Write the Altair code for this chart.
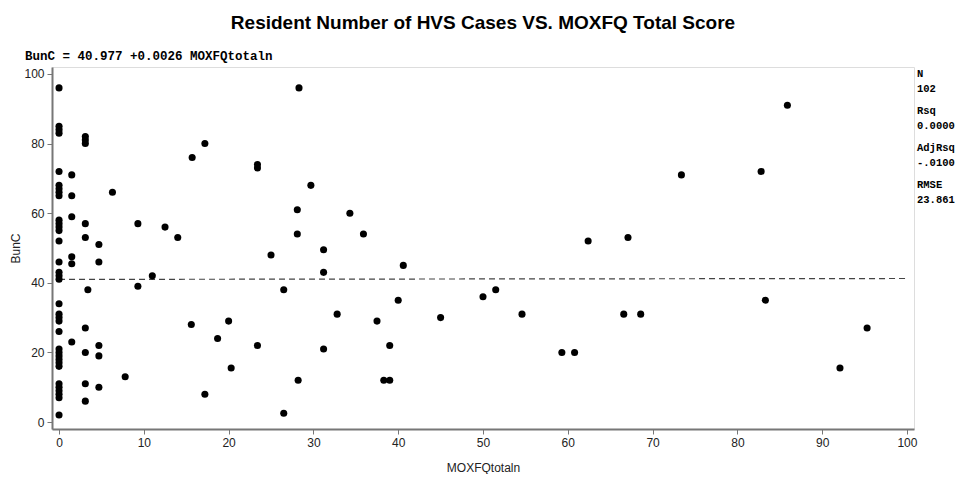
import altair as alt
import pandas as pd

# Scatter data (MOXFQtotaln, BunC)
moxfq = (
    [0] * 35
    + [1.5] * 6
    + [3.1, 3.1, 3.1, 3.1, 3.1, 3.4, 3.1, 3.1, 3.1, 3.1]
    + [4.7] * 5
    + [6.3, 7.8, 9.3, 9.3, 11.0]
    + [28.3, 17.2, 15.7, 23.4, 23.4, 29.7, 28.1, 34.3, 12.5, 14.0, 28.1, 31.2]
    + [25.0, 31.2, 26.5, 32.8, 15.6, 20.0, 18.7, 23.4, 31.2, 20.3, 28.2, 17.2, 26.5]
    + [35.9, 40.6, 40.0, 37.5, 39.0, 38.3, 39.0, 45.0, 50.0, 51.5, 54.6, 59.3, 60.8, 62.4]
    + [67.1, 66.6, 68.6, 85.9, 73.4, 82.8, 83.3, 92.1, 95.3]
)
bunc = (
    [96, 85, 84, 83, 72, 68, 67, 66, 65, 58, 57, 56, 55, 52, 46, 43, 42, 41, 34,
     31, 30, 29, 26, 21, 20, 19, 18, 17, 16, 11, 10, 9, 8, 7, 2]
    + [71, 65, 59, 47.5, 45.5, 23]
    + [82, 81, 80, 57, 53, 38, 27, 20, 11, 6]
    + [51, 46, 22, 19, 10]
    + [66, 13, 57, 39, 42]
    + [96, 80, 76, 74, 73, 68, 61, 60, 56, 53, 54, 49.5]
    + [48, 43, 38, 31, 28, 29, 24, 22, 21, 15.5, 12, 8, 2.5]
    + [54, 45, 35, 29, 22, 12, 12, 30, 36, 38, 31, 20, 20, 52]
    + [53, 31, 31, 91, 71, 72, 35, 15.5, 27]
)

intercept = 40.977
slope = 0.0026
fit_x = [0, 100]
fit_y = [intercept + slope * v for v in fit_x]

stat_labels = ["N", "102", "Rsq", "0.0000", "AdjRsq", "-.0100", "RMSE", "23.861"]
equation = "BunC = 40.977 +0.0026 MOXFQtotaln"

pts = pd.DataFrame({"MOXFQtotaln": moxfq, "BunC": bunc})
fit = pd.DataFrame({"MOXFQtotaln": fit_x, "BunC": fit_y})

W, H = 862, 362
xs = alt.Scale(domain=[-0.83, 100.83], nice=False, zero=False)
ys = alt.Scale(domain=[-2.0, 102.0], nice=False, zero=False)
axis_font = "Liberation Sans, Arial"
mono = "Liberation Mono, DejaVu Sans Mono, monospace"

x_enc = alt.X("MOXFQtotaln:Q", scale=xs, axis=alt.Axis(
    title="MOXFQtotaln", values=list(range(0, 101, 10)), grid=False,
    labelFont=axis_font, labelFontSize=12, labelColor="#222",
    titleFont=axis_font, titleFontSize=12, titleFontWeight="normal", titleColor="#222",
    titlePadding=14, tickSize=5, tickColor="#777", domainColor="#777", domainWidth=2,
    labelPadding=3))
y_enc = alt.Y("BunC:Q", scale=ys, axis=alt.Axis(
    title="BunC", values=list(range(0, 101, 20)), grid=False,
    labelFont=axis_font, labelFontSize=12, labelColor="#222",
    titleFont=axis_font, titleFontSize=12, titleFontWeight="normal", titleColor="#222",
    titlePadding=1, tickSize=5, tickColor="#777", domainColor="#777", domainWidth=2,
    labelPadding=3))

points = alt.Chart(pts).mark_circle(color="black", opacity=1, size=50).encode(x=x_enc, y=y_enc)

line = alt.Chart(fit).mark_line(color="#444", strokeDash=[6, 4], strokeWidth=1.2).encode(
    x=alt.X("MOXFQtotaln:Q", scale=xs), y=alt.Y("BunC:Q", scale=ys))

eq_text = alt.Chart(pd.DataFrame({"t": [equation]})).mark_text(
    font=mono, fontSize=12.5, fontWeight="bold", align="left", baseline="bottom", color="black"
).encode(text="t:N", x=alt.value(-27), y=alt.value(-4))

stats = pd.DataFrame({"t": stat_labels, "i": list(range(len(stat_labels)))})
stats["yy"] = [7 + 14.5 * (k % 2) + 37 * (k // 2) for k in range(len(stat_labels))]
stat_text = alt.Chart(stats).mark_text(
    font=mono, fontSize=10.5, fontWeight="bold", align="left", baseline="middle", color="black"
).encode(text="t:N", x=alt.value(W + 3), y=alt.Y("yy:Q", scale=None, axis=None))

chart = alt.layer(line, points, eq_text, stat_text).properties(
    width=W, height=H,
    title=alt.TitleParams(
        "Resident Number of HVS Cases VS. MOXFQ Total Score",
        font=axis_font, fontSize=19, fontWeight="bold", color="black",
        anchor="middle", offset=17),
    autosize=alt.AutoSizeParams(type="none"),
    padding={"left": 44, "top": 59, "right": 44, "bottom": 45},
).configure_view(stroke="#777", strokeWidth=2).configure(background="white")

chart.save("out.html", embed_options={"renderer": "svg", "actions": False})
